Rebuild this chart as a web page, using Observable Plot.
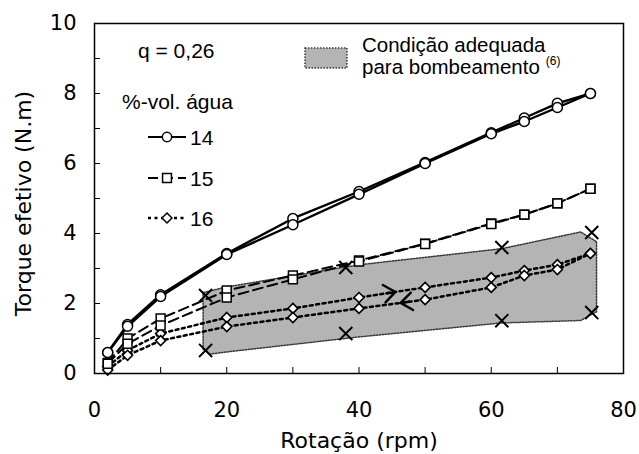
<!DOCTYPE html>
<html><head><meta charset="utf-8">
<script src="https://cdn.jsdelivr.net/npm/d3@7"></script>
<script src="https://cdn.jsdelivr.net/npm/@observablehq/plot@0.6"></script>
<style>body{margin:0;background:#fff} #chart{width:639px;height:454px}</style>
</head><body><div id="chart"></div>
<script>
// Rotation (rpm) at which torque was measured
const rpm = [2, 5, 10, 20, 30, 40, 50, 60, 65, 70, 75];
// %-vol. água = 14 (up and down runs)
const torque14Up   = [0.6, 1.4, 2.25, 3.43, 4.43, 5.2, 6.03, 6.88, 7.3, 7.72, 8.0];
const torque14Down = [0.6, 1.35, 2.2, 3.4, 4.25, 5.12, 6.0, 6.85, 7.2, 7.6, 8.0];
// %-vol. água = 15
const torque15Up   = [0.3, 1.0, 1.57, 2.37, 2.8, 3.23, 3.71, 4.29, 4.54, 4.86, 5.28];
const torque15Down = [0.28, 0.85, 1.37, 2.17, 2.69, 3.2, 3.7, 4.27, 4.54, 4.86, 5.28];
// %-vol. água = 16
const torque16Up   = [0.2, 0.66, 1.14, 1.6, 1.86, 2.17, 2.46, 2.74, 2.94, 3.11, 3.43];
const torque16Down = [0.1, 0.52, 0.94, 1.34, 1.6, 1.86, 2.11, 2.46, 2.8, 2.97, 3.43];
// Region "Condição adequada para bombeamento"
const regionX      = [16.5, 17.5, 20, 40, 61.6, 73.6, 76];
const regionTop    = [2.3, 2.34, 2.46, 3.09, 3.55, 4.03, 3.75];
const regionBottom = [0.68, 0.54, 0.6, 1.03, 1.43, 1.5, 1.75];
// × markers bounding the region
const markRpm    = [16.8, 38, 61.6, 75.2, 16.8, 38, 61.6, 75.2];
const markTorque = [2.23, 3.03, 3.6, 4.03, 0.66, 1.14, 1.51, 1.74];
// tick values
const xLabelTicks = [0, 20, 40, 60, 80];
const xMinorTicks = [0, 10, 20, 30, 40, 50, 60, 70, 80];
const yLabelTicks = [0, 2, 4, 6, 8, 10];
const yMinorTicks = [0, 1, 2, 3, 4, 5, 6, 7, 8, 9, 10];

const toRows = (ys, run) => rpm.map((x, i) => ({x, y: ys[i], run}));
const s14 = [...toRows(torque14Up, "up"), ...toRows(torque14Down, "down")];
const s15 = [...toRows(torque15Up, "up"), ...toRows(torque15Down, "down")];
const s16 = [...toRows(torque16Up, "up"), ...toRows(torque16Down, "down")];
const region = regionX.map((x, i) => ({x, lo: regionBottom[i], hi: regionTop[i]}));
const marks = markRpm.map((x, i) => ({x, y: markTorque[i]}));
// direction arrows on the 16 % curve (between 40 and 50 rpm)
const arrowUp = [{x1: rpm[5], y1: torque16Up[5], x2: rpm[6], y2: torque16Up[6]}];
const arrowDown = [{x1: rpm[6], y1: torque16Down[6], x2: rpm[5], y2: torque16Down[5]}];

const tickFont = "DejaVu Sans";
const arrowStyle = {x1: "x1", y1: "y1", x2: "x2", y2: "y2", stroke: "black", strokeWidth: 2.4, headLength: 9, headAngle: 75};
const chart = Plot.plot({
  width: 639, height: 454,
  marginLeft: 94, marginRight: 16, marginTop: 23, marginBottom: 81,
  x: {domain: [0, 80]},
  y: {domain: [0, 10]},
  style: {fontFamily: tickFont, color: "black", background: "white"},
  marks: [
    Plot.areaY(region, {x: "x", y1: "lo", y2: "hi", fill: "#b4b4b4", stroke: "#3a3a3a", strokeWidth: 1.5, strokeDasharray: "1.5,1.5"}),
    Plot.line(s16, {x: "x", y: "y", z: "run", stroke: "black", strokeWidth: 2.5, strokeDasharray: "3,3.5"}),
    Plot.line(s15, {x: "x", y: "y", z: "run", stroke: "black", strokeWidth: 2, strokeDasharray: "10,5"}),
    Plot.line(s14, {x: "x", y: "y", z: "run", stroke: "black", strokeWidth: 2.4}),
    Plot.arrow(arrowUp, {...arrowStyle, insetStart: 28, insetEnd: 30}),
    Plot.arrow(arrowDown, {...arrowStyle, insetStart: 16, insetEnd: 42}),
    Plot.dot(s16, {x: "x", y: "y", symbol: "diamond2", r: 4.5, fill: "white", stroke: "black", strokeWidth: 1.6}),
    Plot.dot(s15, {x: "x", y: "y", symbol: "square", r: 5, fill: "white", stroke: "black", strokeWidth: 1.5}),
    Plot.dot(s14, {x: "x", y: "y", symbol: "circle", r: 5, fill: "white", stroke: "black", strokeWidth: 1.5}),
    Plot.dot(marks, {x: "x", y: "y", symbol: "times", r: 6, stroke: "black", strokeWidth: 2}),
    Plot.frame({stroke: "black", strokeWidth: 1.5}),
    Plot.axisX({ticks: xMinorTicks, tickSize: -6, tickFormat: () => "", label: null}),
    Plot.axisY({ticks: yMinorTicks, tickSize: -6, tickFormat: () => "", label: null}),
    Plot.axisX({ticks: xLabelTicks, tickSize: 0, tickPadding: 29, fontSize: 21, label: null}),
    Plot.axisY({ticks: yLabelTicks, tickSize: 0, tickPadding: 18, fontSize: 21, label: null}),
    Plot.text(["Rotação (rpm)"], {frameAnchor: "bottom", dy: 74, lineAnchor: "bottom", fontSize: 22, fill: "black"}),
    Plot.text(["Torque efetivo (N.m)"], {frameAnchor: "left", textAnchor: "middle", rotate: -90, dx: -71, dy: 5, fontSize: 22, fill: "black"})
  ]
});
document.getElementById("chart").appendChild(chart);

// Legend drawn inside the plot area
const svg = d3.select(chart);
const g = svg.append("g").attr("font-family", "Liberation Sans, Arial, sans-serif")
  .attr("text-anchor", "start").attr("fill", "black");
g.append("text").attr("x", 138).attr("y", 58).attr("font-size", 21).text("q = 0,26");
g.append("text").attr("x", 122).attr("y", 109).attr("font-size", 21).text("%-vol. água");
const entries = [
  {label: "14", y: 137, dash: null, w: 2.2, sym: d3.symbolCircle, size: Math.PI * 22},
  {label: "15", y: 178, dash: "10,5", w: 2, sym: d3.symbolSquare, size: Math.PI * 25},
  {label: "16", y: 218, dash: "3,3.5", w: 2.5, sym: d3.symbolDiamond2, size: Math.PI * 20}
];
for (const e of entries) {
  g.append("line").attr("x1", 148).attr("x2", 186).attr("y1", e.y).attr("y2", e.y)
    .attr("stroke", "black").attr("stroke-width", e.w).attr("stroke-dasharray", e.dash);
  g.append("path").attr("d", d3.symbol(e.sym, e.size)()).attr("transform", `translate(167,${e.y})`)
    .attr("fill", "white").attr("stroke", "black").attr("stroke-width", 1.5);
  g.append("text").attr("x", 190).attr("y", e.y + 8).attr("font-size", 21).text(e.label);
}
g.append("rect").attr("x", 305).attr("y", 48).attr("width", 42).attr("height", 20)
  .attr("fill", "#b4b4b4").attr("stroke", "#3a3a3a").attr("stroke-width", 1.5).attr("stroke-dasharray", "1.5,1.5");
g.append("text").attr("x", 362).attr("y", 52).attr("font-size", 20.5).text("Condição adequada");
const t2 = g.append("text").attr("x", 362).attr("y", 74).attr("font-size", 20.5);
t2.append("tspan").text("para bombeamento");
t2.append("tspan").attr("dx", 6).attr("dy", -9).attr("font-size", 12).text("(6)");
</script>
</body></html>
